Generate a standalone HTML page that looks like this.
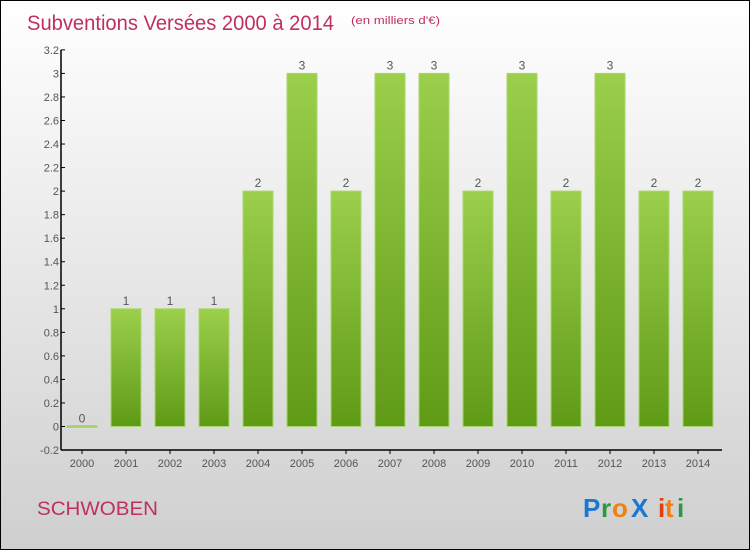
<!DOCTYPE html>
<html><head><meta charset="utf-8"><style>
body{margin:0;width:750px;height:550px;overflow:hidden;}
#wrap{position:relative;width:748px;height:548px;border:1px solid #000;background:linear-gradient(#ffffff,#cfcfcf);font-family:"Liberation Sans",sans-serif;}
</style></head><body>
<div id="wrap">
<svg id="chart" width="748" height="548">
<text x="26" y="29" font-size="21" fill="#c0305f" textLength="307" lengthAdjust="spacingAndGlyphs">Subventions Versées 2000 à 2014</text>
<text x="350" y="23" font-size="11" fill="#c0305f" textLength="89" lengthAdjust="spacingAndGlyphs">(en milliers d'€)</text>
<text x="36" y="514" font-size="19" fill="#c0305f" textLength="121" lengthAdjust="spacingAndGlyphs">SCHWOBEN</text>
<g font-size="26" font-weight="bold" font-family="'Liberation Sans',sans-serif">
<text x="582" y="516" fill="#1a78d0">P</text><text x="600" y="516" fill="#2a9a40">r</text><text x="611" y="516" fill="#f08010">o</text><text x="630" y="516" fill="#1a78d0">X</text><text x="657" y="516" fill="#e04010">i</text><text x="664" y="516" fill="#f08010">t</text><text x="676" y="516" fill="#2a9a40">i</text>
</g>
<defs><linearGradient id="g" x1="0" y1="0" x2="0" y2="1"><stop offset="0" stop-color="#9bcf4c"/><stop offset="1" stop-color="#5f9a16"/></linearGradient></defs>
<g id="plot"></g>
</svg>
</div>
<script>
const years=["2000","2001","2002","2003","2004","2005","2006","2007","2008","2009","2010","2011","2012","2013","2014"];
const values=[0,1,1,1,2,3,2,3,3,2,3,2,3,2,2];
const labels=["0","1","1","1","2","3","2","3","3","2","3","2","3","2","2"];
const yTicks=["-0.2","0","0.2","0.4","0.6","0.8","1","1.2","1.4","1.6","1.8","2","2.2","2.4","2.6","2.8","3","3.2"];
const NS="http://www.w3.org/2000/svg";
const plot=document.getElementById('plot');
function y(v){return 425.5-(v)*117.7;}
function x(i){return 81+i*44;}
function mk(t,a){const e=document.createElementNS(NS,t);for(const k in a)e.setAttribute(k,a[k]);plot.appendChild(e);return e;}
const yax=mk('line',{x1:60,y1:y(3.2),x2:60,y2:y(-0.2),stroke:'#000','stroke-width':1.5});


const xax=mk('line',{x1:60,y1:y(-0.2),x2:721,y2:y(-0.2),stroke:'#000','stroke-width':1.5});


yTicks.forEach(t=>{const v=parseFloat(t);
 mk('line',{x1:60,y1:y(v),x2:64,y2:y(v),stroke:'#000'});
 const tx=mk('text',{x:58,y:y(v)+4,'font-size':11,fill:'#555','text-anchor':'end'});tx.textContent=t;
 
 
});
years.forEach((yr,i)=>{
 mk('line',{x1:x(i),y1:y(-0.2),x2:x(i),y2:y(-0.2)+4,stroke:'#000'});
 const tx=mk('text',{x:x(i),y:466,'font-size':11,fill:'#555','text-anchor':'middle'});tx.textContent=yr;
 
 
 const v=values[i];const h=Math.max(y(0)-y(v),2);
 const r=mk('rect',{x:x(i)-15,y:y(v)-(v==0?1:0),width:30,height:h,fill:v==0?'#a8d070':'url(#g)',stroke:'#a8d86a','stroke-width':1});
 
 
 const lb=mk('text',{x:x(i),y:y(v)-4,'font-size':12,fill:'#555','text-anchor':'middle'});lb.textContent=labels[i];
 
 
});
</script>
</body></html>
